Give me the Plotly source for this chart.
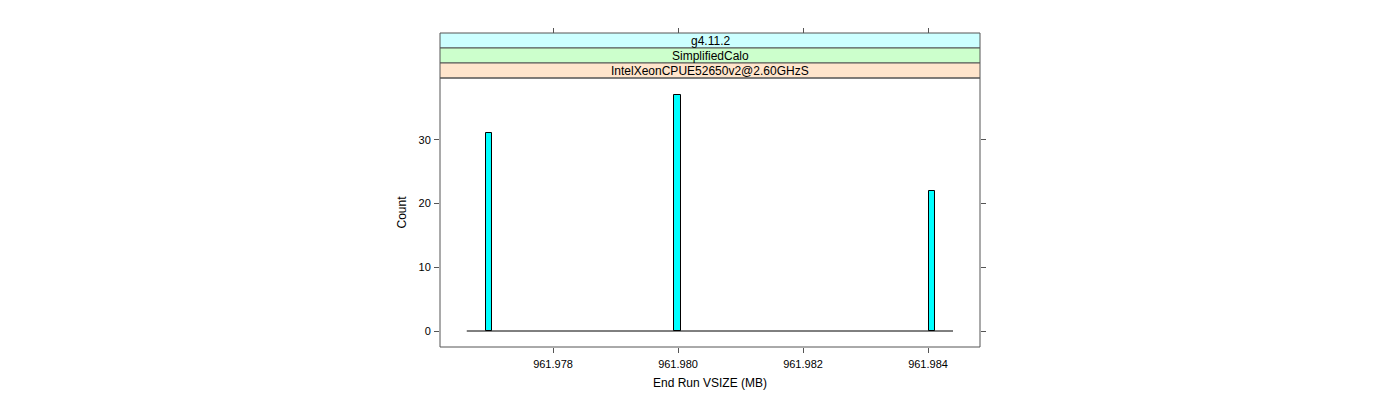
import plotly.graph_objects as go

# data
bin_centers = [961.97697, 961.97999, 961.98406]
counts = [31, 37, 22]
bin_width = 0.0001
bin_range = [961.97662, 961.98440]
x_ticks = [961.978, 961.980, 961.982, 961.984]
x_tick_labels = ["961.978", "961.980", "961.982", "961.984"]
y_ticks = [0, 10, 20, 30]
strip_labels = ["g4.11.2", "SimplifiedCalo", "IntelXeonCPUE52650v2@2.60GHzS"]
strip_colors = ["#CCFFFF", "#CCFFCC", "#FFE5CC"]

W, H = 1400, 400
px_l, px_r, px_t, px_b = 440, 980, 78, 347
strip_h = 15
xr = [961.976192, 961.984832]
yr = [-2.51, 39.7]

FONT = "Liberation Sans, Arial, Helvetica, sans-serif"

fig = go.Figure()
fig.add_trace(go.Scatter(x=bin_range, y=[0, 0], mode="lines",
                         line=dict(color="black", width=1), hoverinfo="skip", showlegend=False))
fig.add_trace(go.Bar(x=bin_centers, y=counts, width=[bin_width] * len(counts),
                     marker=dict(color="#00FFFF", line=dict(color="black", width=1)),
                     showlegend=False))
# invisible trace for top tick axis
fig.add_trace(go.Scatter(x=xr, y=yr, xaxis="x2", yaxis="y", mode="markers",
                         marker=dict(opacity=0), hoverinfo="skip", showlegend=False))

def px2x(p):
    return p / W

def px2y(p):
    return 1 - p / H

shapes = []
annotations = []
n = len(strip_labels)
for i, (lab, col) in enumerate(zip(strip_labels, strip_colors)):
    top = px_t - strip_h * (n - i)
    bot = top + strip_h
    shapes.append(dict(type="rect", xref="paper", yref="paper",
                       x0=px2x(px_l), x1=px2x(px_r), y0=px2y(bot), y1=px2y(top),
                       fillcolor=col, line=dict(color="#555555", width=1), layer="above"))
    annotations.append(dict(text=lab, xref="paper", yref="paper",
                            x=px2x((px_l + px_r) / 2), y=px2y((top + bot) / 2),
                            showarrow=False, font=dict(size=12, color="black", family=FONT),
                            xanchor="center", yanchor="middle"))
shapes.append(dict(type="rect", xref="paper", yref="paper",
                   x0=px2x(px_l), x1=px2x(px_r), y0=px2y(px_b), y1=px2y(px_t),
                   line=dict(color="#555555", width=1), layer="above"))

axis_common = dict(showgrid=False, zeroline=False, ticks="outside", ticklen=5,
                   tickcolor="#555555", tickfont=dict(size=11, family=FONT, color="black"))

fig.update_layout(
    width=W, height=H, margin=dict(l=0, r=0, t=0, b=0),
    paper_bgcolor="white", plot_bgcolor="white",
    bargap=0,
    font=dict(family=FONT, color="black"),
    xaxis=dict(domain=[px2x(px_l), px2x(px_r)], range=xr, tickvals=x_ticks,
               ticktext=x_tick_labels, showline=False, anchor="y", ticklabelstandoff=2,
               title=dict(text="End Run VSIZE (MB)", font=dict(size=12, family=FONT), standoff=9),
               **axis_common),
    xaxis2=dict(domain=[px2x(px_l), px2x(px_r)], range=xr, tickvals=x_ticks,
                showticklabels=False, overlaying="x", anchor="free",
                position=px2y(px_t - strip_h * n), side="top", showline=False,
                **axis_common),
    yaxis=dict(domain=[px2y(px_b), px2y(px_t)], range=yr, tickvals=y_ticks,
               showline=True, linecolor="rgba(0,0,0,0)", mirror="ticks", ticklabelstandoff=1,
               title=dict(text="Count", font=dict(size=12, family=FONT), standoff=9),
               **axis_common),
    shapes=shapes, annotations=annotations,
)

fig.write_html("out.html")
